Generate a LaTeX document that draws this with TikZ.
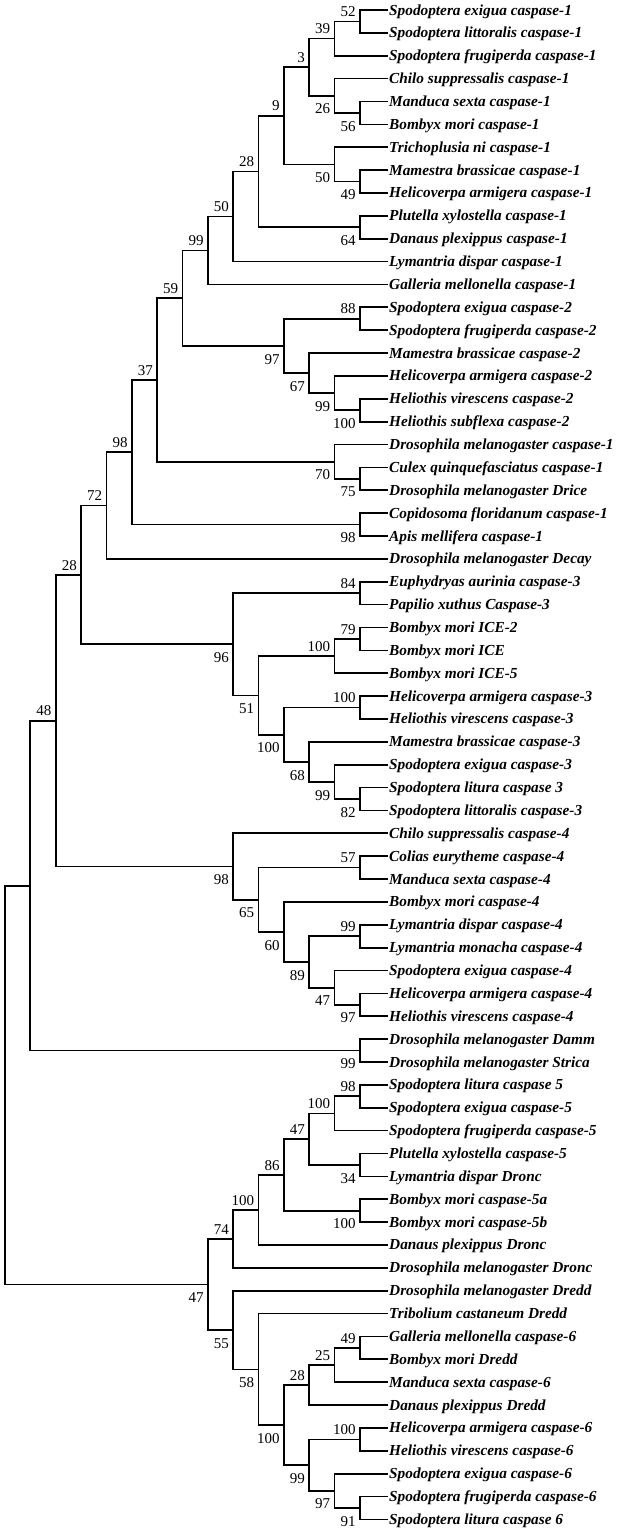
\documentclass[tikz,border=0pt]{standalone}
\usepackage{fontspec}
\setmainfont{Liberation Serif}
\usetikzlibrary{calc,positioning}
\tikzset{
 br/.style={line width=1.7pt},
 leaf/.style={anchor=west, inner xsep=1.5pt, inner ysep=0pt, font=\fontsize{15.3}{17}\selectfont\bfseries\itshape, text height=10pt, text depth=0pt},
 bs/.style={inner sep=0pt, font=\fontsize{15}{17}\selectfont},
 la/.style={above left=4.5pt and 4pt},
 lb/.style={below left=8pt and 4pt},
}
\newcommand\inode[6]{%
 \coordinate (#1m) at ($(#3)!.5!(#4)$);
 \coordinate (#1x) at ({5+25.34*#2},0);
 \coordinate (#1) at (#1x |- #1m);
 \draw[br] (#3) -| (#1);
 \draw[br] (#4) -| (#1);
 \node[bs,#6] (#1l) at (#1) {#5};
}
\begin{document}
\begin{tikzpicture}[x=1pt,y=-1pt]
\useasboundingbox (0,0) rectangle (618,1532);
\foreach \t [count=\i] in {
Spodoptera exigua caspase-1,
Spodoptera littoralis caspase-1,
Spodoptera frugiperda caspase-1,
Chilo suppressalis caspase-1,
Manduca sexta caspase-1,
Bombyx mori caspase-1,
Trichoplusia ni caspase-1,
Mamestra brassicae caspase-1,
Helicoverpa armigera caspase-1,
Plutella xylostella caspase-1,
Danaus plexippus caspase-1,
Lymantria dispar caspase-1,
Galleria mellonella caspase-1,
Spodoptera exigua caspase-2,
Spodoptera frugiperda caspase-2,
Mamestra brassicae caspase-2,
Helicoverpa armigera caspase-2,
Heliothis virescens caspase-2,
Heliothis subflexa caspase-2,
Drosophila melanogaster caspase-1,
Culex quinquefasciatus caspase-1,
Drosophila melanogaster Drice,
Copidosoma floridanum caspase-1,
Apis mellifera caspase-1,
Drosophila melanogaster Decay,
Euphydryas aurinia caspase-3,
Papilio xuthus Caspase-3,
Bombyx mori ICE-2,
Bombyx mori ICE,
Bombyx mori ICE-5,
Helicoverpa armigera caspase-3,
Heliothis virescens caspase-3,
Mamestra brassicae caspase-3,
Spodoptera exigua caspase-3,
Spodoptera litura caspase 3,
Spodoptera littoralis caspase-3,
Chilo suppressalis caspase-4,
Colias eurytheme caspase-4,
Manduca sexta caspase-4,
Bombyx mori caspase-4,
Lymantria dispar caspase-4,
Lymantria monacha caspase-4,
Spodoptera exigua caspase-4,
Helicoverpa armigera caspase-4,
Heliothis virescens caspase-4,
Drosophila melanogaster Damm,
Drosophila melanogaster Strica,
Spodoptera litura caspase 5,
Spodoptera exigua caspase-5,
Spodoptera frugiperda caspase-5,
Plutella xylostella caspase-5,
Lymantria dispar Dronc,
Bombyx mori caspase-5a,
Bombyx mori caspase-5b,
Danaus plexippus Dronc,
Drosophila melanogaster Dronc,
Drosophila melanogaster Dredd,
Tribolium castaneum Dredd,
Galleria mellonella caspase-6,
Bombyx mori Dredd,
Manduca sexta caspase-6,
Danaus plexippus Dredd,
Helicoverpa armigera caspase-6,
Heliothis virescens caspase-6,
Spodoptera exigua caspase-6,
Spodoptera frugiperda caspase-6,
Spodoptera litura caspase 6}
 \node[leaf] (L\i) at (387.5,{10+22.87*(\i-1)}) {\t};
% caspase-1/2 clade
\inode{N52}{14}{L1.west}{L2.west}{52}{la}
\inode{N39}{13}{N52}{L3.west}{39}{la}
\inode{N56}{14}{L5.west}{L6.west}{56}{lb}
\inode{N26}{13}{L4.west}{N56}{26}{lb}
\inode{N3}{12}{N39}{N26}{3}{la}
\inode{N49}{14}{L8.west}{L9.west}{49}{lb}
\inode{N50a}{13}{L7.west}{N49}{50}{lb}
\inode{N9}{11}{N3}{N50a}{9}{la}
\inode{N64}{14}{L10.west}{L11.west}{64}{lb}
\inode{N28a}{10}{N9}{N64}{28}{la}
\inode{N50b}{9}{N28a}{L12.west}{50}{la}
\inode{N99a}{8}{N50b}{L13.west}{99}{la}
\inode{N88}{14}{L14.west}{L15.west}{88}{la}
\inode{N100a}{14}{L18.west}{L19.west}{100}{lb}
\inode{N99b}{13}{L17.west}{N100a}{99}{lb}
\inode{N67}{12}{L16.west}{N99b}{67}{lb}
\inode{N97a}{11}{N88}{N67}{97}{lb}
\inode{N59}{7}{N99a}{N97a}{59}{la}
\inode{N75}{14}{L21.west}{L22.west}{75}{lb}
\inode{N70}{13}{L20.west}{N75}{70}{lb}
\inode{N37}{6}{N59}{N70}{37}{la}
\inode{N98b}{14}{L23.west}{L24.west}{98}{lb}
\inode{N98a}{5}{N37}{N98b}{98}{la}
\inode{N72}{4}{N98a}{L25.west}{72}{la}
% caspase-3
\inode{N84}{14}{L26.west}{L27.west}{84}{la}
\inode{N79}{14}{L28.west}{L29.west}{79}{la}
\inode{N100b}{13}{N79}{L30.west}{100}{la}
\inode{N100c}{14}{L31.west}{L32.west}{100}{la}
\inode{N82}{14}{L35.west}{L36.west}{82}{lb}
\inode{N99c}{13}{L34.west}{N82}{99}{lb}
\inode{N68}{12}{L33.west}{N99c}{68}{lb}
\inode{N100d}{11}{N100c}{N68}{100}{lb}
\inode{N51}{10}{N100b}{N100d}{51}{lb}
\inode{N96}{9}{N84}{N51}{96}{lb}
\inode{N28b}{3}{N72}{N96}{28}{la}
% caspase-4
\inode{N57}{14}{L38.west}{L39.west}{57}{la}
\inode{N99d}{14}{L41.west}{L42.west}{99}{la}
\inode{N97b}{14}{L44.west}{L45.west}{97}{lb}
\inode{N47a}{13}{L43.west}{N97b}{47}{lb}
\inode{N89}{12}{N99d}{N47a}{89}{lb}
\inode{N60}{11}{L40.west}{N89}{60}{lb}
\inode{N65}{10}{N57}{N60}{65}{lb}
\inode{N98c}{9}{L37.west}{N65}{98}{lb}
\inode{N48}{2}{N28b}{N98c}{48}{la}
\inode{N99e}{14}{L46.west}{L47.west}{99}{lb}
\inode{NA}{1}{N48}{N99e}{}{la}
% caspase-5 / Dronc
\inode{N98d}{14}{L48.west}{L49.west}{98}{la}
\inode{N100e}{13}{N98d}{L50.west}{100}{la}
\inode{N34}{14}{L51.west}{L52.west}{34}{lb}
\inode{N47b}{12}{N100e}{N34}{47}{la}
\inode{N100f}{14}{L53.west}{L54.west}{100}{lb}
\inode{N86}{11}{N47b}{N100f}{86}{la}
\inode{N100g}{10}{N86}{L55.west}{100}{la}
\inode{N74}{9}{N100g}{L56.west}{74}{la}
% Dredd / caspase-6
\inode{N49b}{14}{L59.west}{L60.west}{49}{la}
\inode{N25}{13}{N49b}{L61.west}{25}{la}
\inode{N28c}{12}{N25}{L62.west}{28}{la}
\inode{N100h}{14}{L63.west}{L64.west}{100}{la}
\inode{N91}{14}{L66.west}{L67.west}{91}{lb}
\inode{N97c}{13}{L65.west}{N91}{97}{lb}
\inode{N99f}{12}{N100h}{N97c}{99}{lb}
\inode{N100i}{11}{N28c}{N99f}{100}{lb}
\inode{N58}{10}{L58.west}{N100i}{58}{lb}
\inode{N55}{9}{L57.west}{N58}{55}{lb}
\inode{N47c}{8}{N74}{N55}{47}{lb}
% root
\coordinate (Rm) at ($(NA)!.5!(N47c)$);
\coordinate (Rx) at (5,0);
\coordinate (R) at (Rx |- Rm);
\draw[br] (NA) -| (R);
\draw[br] (N47c) -| (R);
\end{tikzpicture}
\end{document}
